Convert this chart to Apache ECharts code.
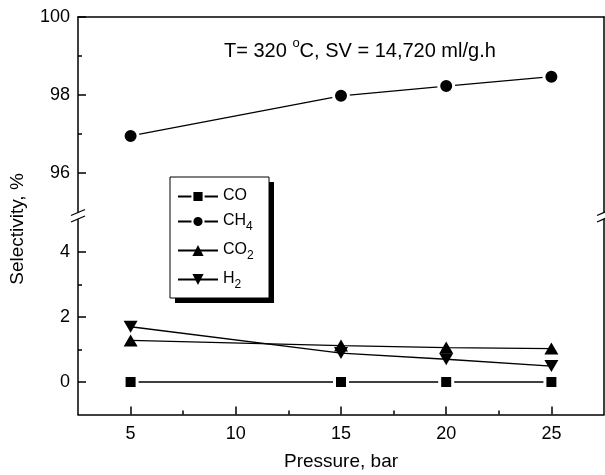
<!DOCTYPE html>
<html><head><meta charset="utf-8">
<script src="https://cdn.jsdelivr.net/npm/echarts@6/dist/echarts.min.js"></script>
<style>html,body{margin:0;padding:0;background:#fff}#c{width:605px;height:475px}</style>
</head><body><div id="c"></div><script>
// ---- data ----
const pressure = [5, 15, 20, 25];
const coVals  = [0, 0, 0, 0];
const ch4Vals = [96.95, 97.98, 98.23, 98.47];
const co2Vals = [1.28, 1.12, 1.06, 1.03];
const h2Vals  = [1.70, 0.89, 0.70, 0.49];
const seriesNames = ['CO', 'CH4', 'CO2', 'H2'];
const xTicks = [5, 10, 15, 20, 25];
const xMinorTicks = [7.5, 12.5, 17.5, 22.5];
const upperTicks = [96, 98, 100];
const upperMinorTicks = [97, 99];
const lowerTicks = [0, 2, 4];
const lowerMinorTicks = [1, 3];
const xRange = [2.5, 27.5];
const upperRange = [95, 100];
const lowerRange = [-1, 5];
const noteText = '{b|T= 320 }{p|o}{b|C, SV = 14,720 ml/g.h}';
const xName = 'Pressure, bar';
const yName = 'Selectivity, %';

// ---- layout ----
const FONT = '"Liberation Sans", Arial, sans-serif';
const L = 78, R = 1;
const upTop = 17, upH = 195;
const loTop = 219.5, loH = 195;
const W = 605, H = 475;
const lw = 1.5;
const legBox = { x: 170, y: 177, w: 99, h: 121, sh: 5 };

const line = (s) => ({ show: s, onZero: false, lineStyle: { color: '#000', width: lw } });
const pair = (a, b) => a.map((v, i) => [v, b[i]]);

function xAxisBase(grid) {
  return { type: 'value', gridIndex: grid, min: xRange[0], max: xRange[1],
    splitLine: { show: false }, axisLabel: { show: false }, axisTick: { show: false }, axisLine: line(false) };
}
function yAxisBase(grid, range) {
  return { type: 'value', gridIndex: grid, min: range[0], max: range[1],
    splitLine: { show: false }, axisLabel: { show: false }, axisTick: { show: false }, axisLine: line(false) };
}
const tick = (vals, len) => ({ show: true, inside: true, length: len, customValues: vals,
  lineStyle: { color: '#000', width: lw } });
const label = (vals) => ({ show: true, customValues: vals, color: '#000', fontSize: 18, fontFamily: FONT, margin: 8 });

const xAxes = [
  Object.assign(xAxisBase(0), { position: 'top', axisLine: line(true) }),
  Object.assign(xAxisBase(1), { position: 'bottom', axisLine: line(true), axisTick: tick(xTicks, 8),
    axisLabel: Object.assign(label(xTicks), { margin: 11 }),
    name: xName, nameLocation: 'middle', nameGap: 38,
    nameTextStyle: { color: '#000', fontSize: 19, fontFamily: FONT } }),
  Object.assign(xAxisBase(1), { position: 'bottom', axisTick: tick(xMinorTicks, 4) })
];
const yAxes = [
  Object.assign(yAxisBase(0, upperRange), { position: 'left', axisLine: line(true), axisTick: tick(upperTicks, 8), axisLabel: label(upperTicks) }),
  Object.assign(yAxisBase(0, upperRange), { position: 'left', axisTick: tick(upperMinorTicks, 4) }),
  Object.assign(yAxisBase(0, upperRange), { position: 'right', axisLine: line(true) }),
  Object.assign(yAxisBase(1, lowerRange), { position: 'left', axisLine: line(true), axisTick: tick(lowerTicks, 8), axisLabel: label(lowerTicks) }),
  Object.assign(yAxisBase(1, lowerRange), { position: 'left', axisTick: tick(lowerMinorTicks, 4) }),
  Object.assign(yAxisBase(1, lowerRange), { position: 'right', axisLine: line(true) })
];

const gapStyle = { color: '#000', borderColor: '#fff', borderWidth: 3 };
function ser(name, data, xi, yi, symbol, size, extra) {
  return Object.assign({ name, type: 'line', data, xAxisIndex: xi, yAxisIndex: yi,
    symbol, symbolSize: size, showAllSymbol: true, animation: false, z: 3,
    lineStyle: { color: '#000', width: 1.3 },
    itemStyle: { color: '#000' }, emphasis: { disabled: true } }, extra || {});
}

const series = [
  ser('CO', pair(pressure, coVals), 1, 3, 'rect', 13, { itemStyle: gapStyle }),
  ser('CH4', pair(pressure, ch4Vals), 0, 0, 'circle', 15, { itemStyle: gapStyle }),
  ser('CO2', pair(pressure, co2Vals), 1, 3, 'triangle', [14, 12]),
  ser('H2', pair(pressure, h2Vals), 1, 3, 'triangle', [14, 12], { symbolRotate: 180 })
];

// break marks
function slash(x, y) {
  return { type: 'line', shape: { x1: x - 7, y1: y + 3, x2: x + 7, y2: y - 3 },
    style: { stroke: '#000', lineWidth: 1.3 }, z: 100 };
}
const yUpBottom = upTop + upH, yLoTop = loTop;
const graphics = [
  slash(L, yUpBottom + 0.5), slash(L, yLoTop - 0.5),
  slash(W - R, yUpBottom + 0.5), slash(W - R, yLoTop - 0.5),
  { type: 'rect', shape: { x: legBox.x + legBox.sh, y: legBox.y + legBox.sh, width: legBox.w, height: legBox.h },
    style: { fill: '#000' }, z: 4 },
  { type: 'rect', shape: { x: legBox.x, y: legBox.y, width: legBox.w, height: legBox.h },
    style: { fill: '#fff', stroke: '#000', lineWidth: 1 }, z: 4 },
  { type: 'text', x: 18, y: 229, rotation: Math.PI / 2,
    style: { text: yName, fill: '#000', font: '19px ' + FONT, textAlign: 'center', textVerticalAlign: 'middle' } }
];

const chart = echarts.init(document.getElementById('c'), null, { renderer: 'canvas' });
chart.setOption({
  backgroundColor: '#fff',
  animation: false,
  title: { text: noteText, left: 219, top: 32,
    textStyle: { fontFamily: FONT, color: '#000', fontWeight: 'normal',
      rich: { b: { fontSize: 20, fontFamily: FONT, fontWeight: 'normal', color: '#000', lineHeight: 23, verticalAlign: 'top', padding: [4, 0, 0, 0] },
              p: { fontSize: 13, fontFamily: FONT, fontWeight: 'normal', color: '#000', lineHeight: 9, verticalAlign: 'top' } } } },
  grid: [
    { left: L, right: R, top: upTop, height: upH },
    { left: L, right: R, top: loTop, height: loH }
  ],
  xAxis: xAxes,
  yAxis: yAxes,
  legend: {
    data: seriesNames, orient: 'vertical', left: 170, top: 177, z: 10,
    padding: [11, 18, 8, 7], itemGap: 9, itemWidth: 40, itemHeight: 14,
    selectedMode: false,
    formatter: (n) => '{b|' + n.replace(/\d/, '') + '}' + (/\d/.test(n) ? '{s|' + n.match(/\d/)[0] + '}' : ''),
    textStyle: { fontFamily: FONT, color: '#000',
      rich: { b: { fontSize: 16, fontFamily: FONT, color: '#000', lineHeight: 17, verticalAlign: 'top' },
              s: { fontSize: 12, fontFamily: FONT, color: '#000', lineHeight: 12, verticalAlign: 'top', padding: [8, 0, 0, 0] } } }
  },
  graphic: graphics,
  series
});
</script></body></html>
